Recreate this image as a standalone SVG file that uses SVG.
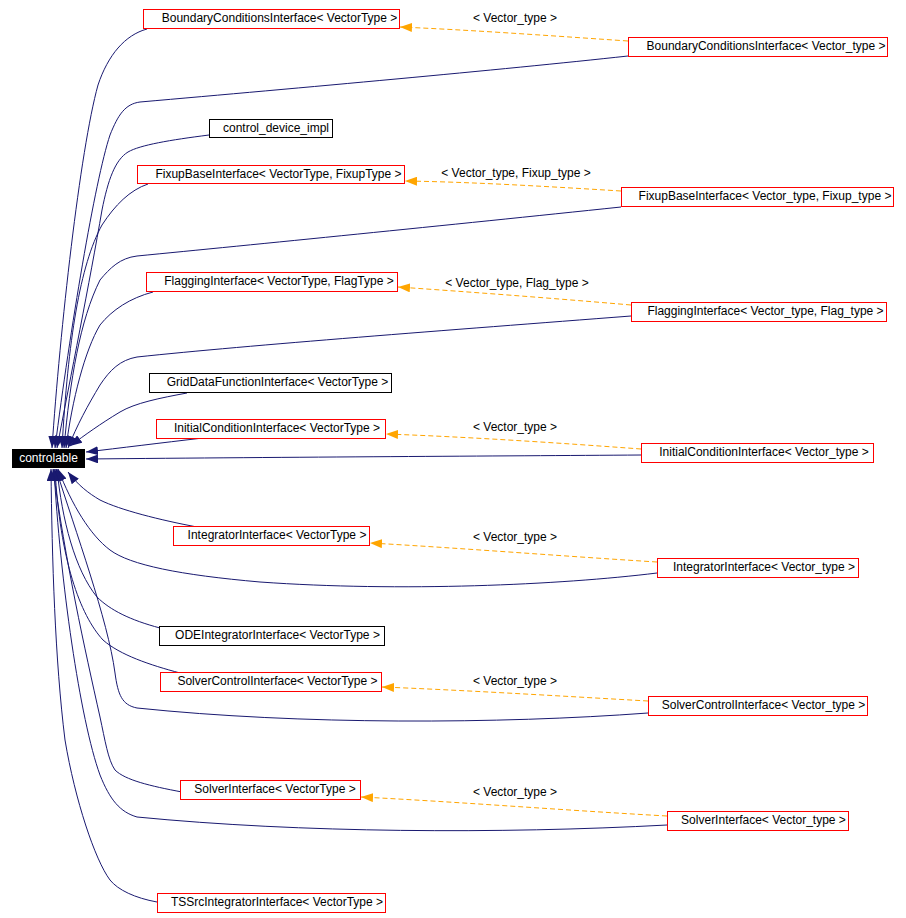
<svg xmlns="http://www.w3.org/2000/svg" width="906" height="918" viewBox="0 0 906 918">
<style>
text{font-family:"Liberation Sans",Arial,Helvetica,sans-serif;font-size:12px;fill:#000;text-anchor:middle}
.nr{fill:#fff;stroke:#ff0000;stroke-width:1}
.nb{fill:#fff;stroke:#000;stroke-width:1}
.e{fill:none;stroke:#191970;stroke-width:1;marker-end:url(#ah)}
.d{fill:none;stroke:#ffa500;stroke-width:1;stroke-dasharray:5,3;marker-end:url(#ao)}
</style>
<defs>
<marker id="ah" markerUnits="userSpaceOnUse" markerWidth="13" markerHeight="9" refX="12" refY="4.5" orient="auto"><path d="M0,0 L12,4.5 L0,9 z" fill="#191970"/></marker>
<marker id="ao" markerUnits="userSpaceOnUse" markerWidth="13" markerHeight="9" refX="12" refY="4.5" orient="auto"><path d="M0,0 L12,4.5 L0,9 z" fill="#ffa500"/></marker>
</defs>
<rect width="906" height="918" fill="#fff"/>
<g id="connectors">
<path class="e" d="M147,29 C125,35 108,55 98,85 C80,150 60,330 52,448"/>
<path class="e" d="M628,56 C500,70 300,88 140,102 C125,104 118,115 110,135 C95,180 70,330 55,448"/>
<path class="e" d="M209,135 C170,140 140,145 128,152 C115,160 108,180 102,210 C90,280 70,380 57,448"/>
<path class="e" d="M148,184 C130,190 115,205 102,225 C80,265 68,340 62,448"/>
<path class="e" d="M621,207 C450,225 250,245 137,256 C120,258 110,268 100,280 C80,320 70,380 64,448"/>
<path class="e" d="M153,292 C130,298 112,310 100,325 C85,350 72,400 66,448"/>
<path class="e" d="M631,316 C450,330 250,345 137,357 C120,360 110,370 100,385 C88,405 77,425 68,448"/>
<path class="e" d="M187,393 C160,398 135,403 120,412 C100,424 85,435 70,446"/>
<path class="e" d="M203,438 C160,443 120,448 86,452"/>
<path class="e" d="M641,455 C500,456 300,457 86,459"/>
<path class="e" d="M197,527 C160,520 120,510 100,500 C88,493 78,485 68,472"/>
<path class="e" d="M657,573 C560,585 400,592 260,582 C180,575 130,565 110,550 C90,535 72,505 58,469"/>
<path class="e" d="M160,628 C130,620 110,610 97,597 C75,570 62,520 57,469"/>
<path class="e" d="M180,673 C150,665 120,655 103,640 C80,615 60,560 55,469"/>
<path class="e" d="M648,713 C500,724 300,725 137,708 C122,705 118,695 115,673 C108,620 75,530 56,469"/>
<path class="e" d="M182,792 C150,786 125,780 115,770 C108,760 105,740 100,717 C85,650 65,560 53,469"/>
<path class="e" d="M667,825 C500,834 300,833 137,817 C120,812 110,800 100,775 C80,720 60,580 54,469"/>
<path class="e" d="M157,902 C135,898 118,890 110,880 C95,860 75,800 65,740 C55,660 52,560 51,469"/>
<path class="d" d="M628,41 C540,35 470,30 400,27"/>
<path class="d" d="M621,191 C540,186 470,182 405,181"/>
<path class="d" d="M631,305 C550,298 470,292 398,287"/>
<path class="d" d="M641,449 C560,443 470,437 386,434"/>
<path class="d" d="M657,562 C560,556 460,548 370,543"/>
<path class="d" d="M648,701 C560,696 460,690 382,687"/>
<path class="d" d="M667,816 C560,810 460,802 361,797"/>
<text x="515" y="22">&lt; Vector_type &gt;</text>
<text x="516" y="177">&lt; Vector_type, Fixup_type &gt;</text>
<text x="517" y="287">&lt; Vector_type, Flag_type &gt;</text>
<text x="515" y="431">&lt; Vector_type &gt;</text>
<text x="515" y="541">&lt; Vector_type &gt;</text>
<text x="515" y="685">&lt; Vector_type &gt;</text>
<text x="515" y="796">&lt; Vector_type &gt;</text>
</g>
<g id="controlable"><rect x="12" y="449" width="73" height="19" fill="#000"/><text x="48.5" y="461.5" style="fill:#fff">controlable</text></g>
<g id="n1"><rect class="nr" x="143.5" y="9.5" width="256" height="19"/><text x="279.5" y="21.5">BoundaryConditionsInterface&lt; VectorType &gt;</text></g>
<g id="n2"><rect class="nr" x="628.5" y="37.5" width="259" height="19"/><text x="766" y="49.5">BoundaryConditionsInterface&lt; Vector_type &gt;</text></g>
<g id="n3"><rect class="nb" x="209.5" y="119.5" width="123" height="18"/><text x="276" y="131.5">control_device_impl</text></g>
<g id="n4"><rect class="nr" x="137.5" y="165.5" width="267" height="18"/><text x="278.5" y="177.5">FixupBaseInterface&lt; VectorType, FixupType &gt;</text></g>
<g id="n5"><rect class="nr" x="621.5" y="187.5" width="272" height="19"/><text x="765" y="199.5">FixupBaseInterface&lt; Vector_type, Fixup_type &gt;</text></g>
<g id="n6"><rect class="nr" x="146.5" y="272.5" width="251" height="19"/><text x="279" y="284.5">FlaggingInterface&lt; VectorType, FlagType &gt;</text></g>
<g id="n7"><rect class="nr" x="631.5" y="302.5" width="255" height="19"/><text x="765.5" y="314.5">FlaggingInterface&lt; Vector_type, Flag_type &gt;</text></g>
<g id="n8"><rect class="nb" x="149.5" y="373.5" width="242" height="19"/><text x="277.5" y="385.5">GridDataFunctionInterface&lt; VectorType &gt;</text></g>
<g id="n9"><rect class="nr" x="156.5" y="419.5" width="229" height="19"/><text x="277" y="431.5">InitialConditionInterface&lt; VectorType &gt;</text></g>
<g id="n10"><rect class="nr" x="641.5" y="443.5" width="232" height="19"/><text x="764" y="455.5">InitialConditionInterface&lt; Vector_type &gt;</text></g>
<g id="n11"><rect class="nr" x="173.5" y="526.5" width="196" height="19"/><text x="277" y="538.5">IntegratorInterface&lt; VectorType &gt;</text></g>
<g id="n12"><rect class="nr" x="657.5" y="558.5" width="201" height="19"/><text x="764" y="570.5">IntegratorInterface&lt; Vector_type &gt;</text></g>
<g id="n13"><rect class="nb" x="159.5" y="626.5" width="225" height="19"/><text x="277.5" y="638.5">ODEIntegratorInterface&lt; VectorType &gt;</text></g>
<g id="n14"><rect class="nr" x="160.5" y="672.5" width="221" height="19"/><text x="277.5" y="684.5">SolverControlInterface&lt; VectorType &gt;</text></g>
<g id="n15"><rect class="nr" x="648.5" y="696.5" width="219" height="19"/><text x="763.5" y="708.5">SolverControlInterface&lt; Vector_type &gt;</text></g>
<g id="n16"><rect class="nr" x="180.5" y="780.5" width="180" height="19"/><text x="275" y="792.5">SolverInterface&lt; VectorType &gt;</text></g>
<g id="n17"><rect class="nr" x="667.5" y="811.5" width="181" height="19"/><text x="763.5" y="823.5">SolverInterface&lt; Vector_type &gt;</text></g>
<g id="n18"><rect class="nr" x="157.5" y="893.5" width="228" height="19"/><text x="277" y="905.5">TSSrcIntegratorInterface&lt; VectorType &gt;</text></g>
</svg>
